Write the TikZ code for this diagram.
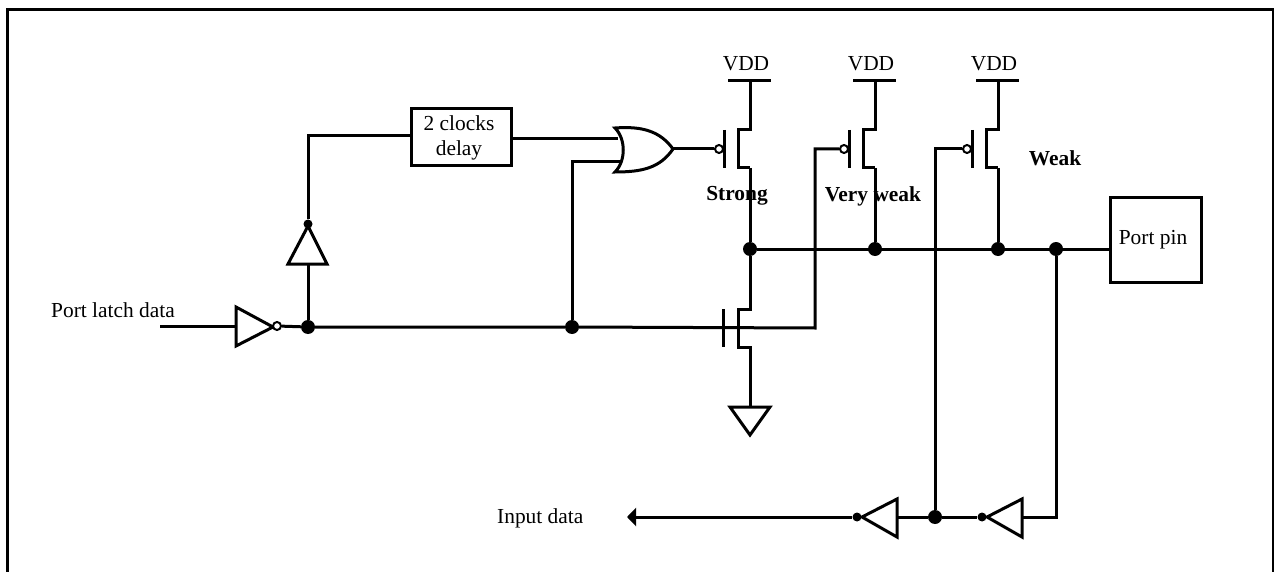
\documentclass[tikz,border=0pt]{standalone}
\usepackage{fontspec}
\setmainfont{Liberation Serif}
\usetikzlibrary{arrows.meta,positioning,calc}
\tikzset{
    % Wire style
    wire/.style={
        draw=black, line width=3pt, line join=miter
    },
    % Gate outline style
    gate/.style={
        draw=black, line width=3pt, line join=miter, fill=white
    },
    % Solid junction style
    junction/.style={
        circle, fill=black, inner sep=0pt, minimum size=14pt
    },
    % Small pin dot style
    pindot/.style={
        circle, fill=black, inner sep=0pt, minimum size=9pt
    },
    % Inverting bubble style
    bubble/.style={
        circle, draw=black, line width=2pt, fill=white, inner sep=0pt, minimum size=8pt
    },
    % Block style
    block/.style={
        rectangle, draw=black, line width=3pt, fill=white, align=center,
        font=\fontsize{21.4}{26}\selectfont
    },
    % Label styles
    plainlabel/.style={
        inner sep=0pt, font=\fontsize{21.4}{26}\selectfont
    },
    boldlabel/.style={
        inner sep=0pt, font=\fontsize{21.4}{26}\selectfont\bfseries
    }
}
\begin{document}
\begin{tikzpicture}[x=1pt,y=-1pt]
\useasboundingbox (0,0) rectangle (1274,572);

% Outer frame, open at the bottom
\coordinate (frameBL) at (7,572);
\coordinate (frameTL) at (7,9.5);
\coordinate (frameTR) at (1273,9.5);
\coordinate (frameBR) at (1273,572);
\draw[wire] (frameBL) -- (frameTL) -- (frameTR) -- (frameBR);

% Blocks
\node[block, minimum width=100pt, minimum height=57pt] (delay) at (461.5,137.5) {2 clocks\hspace*{5pt}\\[-1pt]delay\hspace*{5pt}};
\node[block, minimum width=91pt, minimum height=84pt] (portpin) at (1155.5,240) {Port pin\hspace*{5pt}};

% Junctions
\node[junction] (jgate) at (308,327) {};
\node[junction] (jor) at (572,327) {};
\node[junction] (jdrain) at (750,249) {};
\node[junction] (jweaker) at (875,249) {};
\node[junction] (jweak) at (998,249) {};
\node[junction] (jpin) at (1056,249) {};
\node[junction] (jfeed) at (935,517) {};

% Pull-up transistors
\foreach \name/\x in {a/750,b/875,c/998} {
    \coordinate (vdd\name) at (\x,81);
    \coordinate (vddl\name) at (\x-22,81);
    \coordinate (vddr\name) at (\x+21,81);
    \coordinate (dtop\name) at (\x,130);
    \coordinate (dch\name) at (\x-12,130);
    \coordinate (sch\name) at (\x-12,168);
    \coordinate (stop\name) at (\x,168);
    \coordinate (gtop\name) at (\x-26,130);
    \coordinate (gbot\name) at (\x-26,168);
    \node[plainlabel] (vddlabel\name) at (\x-4,64) {VDD};
    \node[bubble] (bub\name) at (\x-31,149) {};
    \draw[wire] (vddl\name) -- (vddr\name);
    \draw[wire] (vdd\name) -- (dtop\name) -- (dch\name) -- (sch\name) -- (stop\name);
    \draw[wire] (gtop\name) -- (gbot\name);
}
\draw[wire] (stopa) -- (jdrain);
\draw[wire] (stopb) -- (jweaker);
\draw[wire] (stopc) -- (jweak);

% Pull-down transistor and ground
\coordinate (ndtop) at (750,309);
\coordinate (ndch) at (738,309);
\coordinate (nsch) at (738,347);
\coordinate (nstop) at (750,347);
\coordinate (gndtop) at (750,407);
\coordinate (gndl) at (730,407);
\coordinate (gndr) at (770,407);
\coordinate (gndtip) at (750,435);
\coordinate (ngtop) at (723,309);
\coordinate (ngbot) at (723,347);
\draw[wire] (jdrain) -- (ndtop) -- (ndch) -- (nsch) -- (nstop) -- (gndtop);
\draw[wire] (ngtop) -- (ngbot);
\draw[gate] (gndl) -- (gndr) -- (gndtip) -- cycle;

% Output rail to the pin
\draw[wire] (jdrain) -- (portpin.west |- jdrain);

% Latch input and inverter
\node[plainlabel, anchor=west] (latchlabel) at (51,310) {Port latch data};
\coordinate (latchin) at (160,326);
\coordinate (invl) at (236,326);
\coordinate (invtop) at (236,307);
\coordinate (invbot) at (236,346);
\coordinate (invtip) at (273,327);
\draw[wire] (latchin) -- (invl);
\draw[gate] (invtop) -- (invtip) -- (invbot) -- cycle;
\node[bubble] (invbub) at (277,326) {};
\draw[wire] (invbub) -- (jgate);

% Gate line through the pull-down to the second pull-up
\coordinate (gateturn) at (815,328);
\coordinate (weakerin) at (815,149);
\draw[wire] (jgate) -- (jor) -- (gateturn) -- (weakerin) -- (bubb);

% Buffer to the delay block
\coordinate (bufbase) at (308,264);
\coordinate (bufl) at (288,264);
\coordinate (bufr) at (327,264);
\coordinate (buftip) at (308,226);
\coordinate (bufturn) at (308,136);
\draw[wire] (jgate) -- (bufbase);
\draw[gate] (bufl) -- (bufr) -- (buftip) -- cycle;
\node[pindot] (bufdot) at (308,224) {};
\draw[wire] (bufdot) -- (bufturn) -- (delay.west |- bufturn);

% OR gate
\coordinate (orina) at (618,138.5);
\coordinate (orinb) at (620,161.5);
\coordinate (orturn) at (572,161.5);
\coordinate (ortl) at (615,128);
\coordinate (orbl) at (615,172);
\coordinate (ortip) at (673,149);
\draw[wire] (delay.east |- orina) -- (orina);
\draw[wire] (jor) -- (orturn) -- (orinb);
\draw[gate] (ortl) .. controls (626,139) and (626,161) .. (orbl)
    .. controls (642,172) and (660,168) .. (ortip)
    .. controls (660,131) and (642,126) .. (ortl) -- cycle;
\draw[wire] (ortip) -- (buba);

% Third pull-up gate and feedback wire
\coordinate (weakin) at (935,149);
\draw[wire] (jfeed) -- (weakin) -- (bubc);

% Input path
\node[plainlabel, anchor=west] (inputlabel) at (497,518) {Input data};
\coordinate (rxend) at (627,517);
\coordinate (bufabase) at (897,517);
\coordinate (bufatop) at (897,499);
\coordinate (bufabot) at (897,537);
\coordinate (bufatip) at (862,517);
\coordinate (bufbbase) at (1022,517);
\coordinate (bufbtop) at (1022,499);
\coordinate (bufbbot) at (1022,537);
\coordinate (bufbtip) at (987,517);
\coordinate (pinturn) at (1056,517);
\node[pindot] (dotrx) at (857,517) {};
\node[pindot] (dotfeed) at (982,517) {};
\draw[wire, -{Triangle[length=9pt,width=18pt]}] (dotrx) -- (rxend);
\draw[gate] (bufatop) -- (bufatip) -- (bufabot) -- cycle;
\draw[gate] (bufbtop) -- (bufbtip) -- (bufbbot) -- cycle;
\draw[wire] (bufabase) -- (jfeed) -- (dotfeed);
\draw[wire] (jpin) -- (pinturn) -- (bufbbase);

% Drive strength labels
\node[boldlabel] (stronglabel) at (737,196) {Strong};
\node[boldlabel] (veryweaklabel) at (873,196) {Very weak};
\node[boldlabel] (weaklabel) at (1055,158) {Weak};

\end{tikzpicture}
\end{document}
